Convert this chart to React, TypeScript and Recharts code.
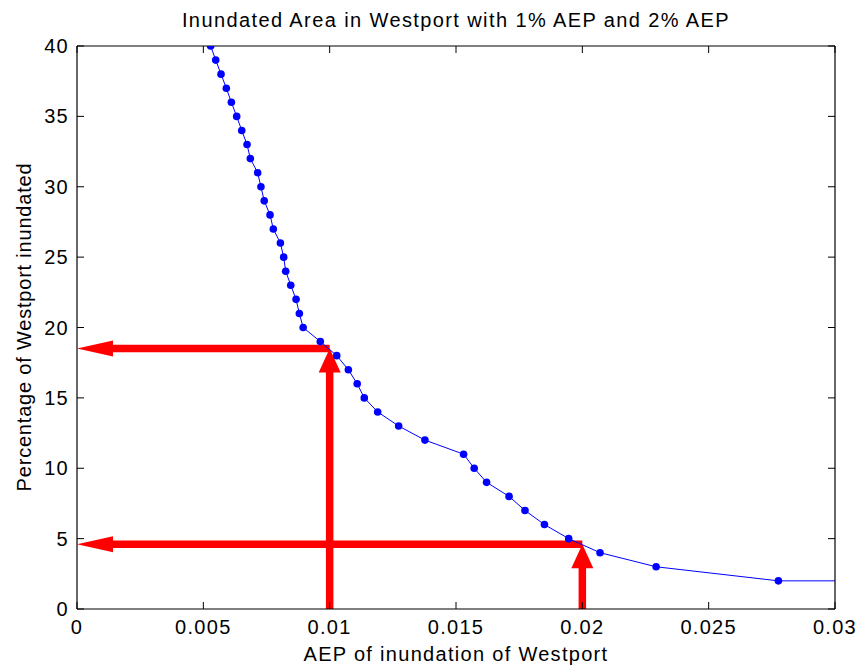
import React from "react";
import { ComposedChart, Line, XAxis, YAxis, ReferenceLine } from "recharts";

// AEP (x) and percentage inundated (y)
const AEP = [
  0.00529, 0.00549, 0.0057, 0.00591, 0.00611, 0.00632, 0.00652, 0.00673,
  0.00686, 0.00715, 0.00728, 0.00741, 0.00764, 0.00777, 0.00805, 0.00818,
  0.00826, 0.00846, 0.00867, 0.0088, 0.00895, 0.00963, 0.01028, 0.01074,
  0.01109, 0.01137, 0.0119, 0.01273, 0.01377, 0.0153, 0.01572, 0.01621,
  0.0171, 0.01773, 0.0185, 0.01946, 0.0207, 0.02292, 0.02776, 0.03,
];
const PCT_INUNDATED = [
  40, 39, 38, 37, 36, 35, 34, 33, 32, 31, 30, 29, 28, 27, 26, 25, 24, 23, 22,
  21, 20, 19, 18, 17, 16, 15, 14, 13, 12, 11, 10, 9, 8, 7, 6, 5, 4, 3, 2, 2,
];

const X_TICKS = [0, 0.005, 0.01, 0.015, 0.02, 0.025, 0.03];
const X_TICK_LABELS = ["0", "0.005", "0.01", "0.015", "0.02", "0.025", "0.03"];
const Y_TICKS = [0, 5, 10, 15, 20, 25, 30, 35, 40];

// the 1% and 2% AEP read-offs
const MARK_AEP = [0.01, 0.02];
const MARK_PCT = [18.5, 4.6];

const FONT = "'Liberation Sans', Arial, sans-serif";

const data = AEP.map((x, i) => ({ aep: x, pct: PCT_INUNDATED[i] }));

const BottomTick = (props: any) => {
  const { x, y, payload } = props;
  const i = X_TICKS.indexOf(payload.value);
  return (
    <g>
      <line x1={x} y1={y} x2={x} y2={y - 7} stroke="#000" />
      <text
        x={x}
        y={y + 25}
        textAnchor="middle"
        fontSize={20}
        fontFamily={FONT}
        fill="#000"
        style={{ letterSpacing: 1.3 }}
      >
        {i >= 0 ? X_TICK_LABELS[i] : payload.value}
      </text>
    </g>
  );
};

const TopTick = (props: any) => {
  const { x, y } = props;
  return <line x1={x} y1={y} x2={x} y2={y + 7} stroke="#000" />;
};

const LeftTick = (props: any) => {
  const { x, y, payload } = props;
  return (
    <g>
      <line x1={x} y1={y} x2={x + 7} y2={y} stroke="#000" />
      <text
        x={x - 8}
        y={y + 7}
        textAnchor="end"
        fontSize={20}
        fontFamily={FONT}
        fill="#000"
        style={{ letterSpacing: 1.3 }}
      >
        {payload.value}
      </text>
    </g>
  );
};

const RightTick = (props: any) => {
  const { x, y } = props;
  return <line x1={x} y1={y} x2={x - 7} y2={y} stroke="#000" />;
};

// thick red arrow from (x1,y1) to the tip at (x2,y2)
const Arrow = (props: any) => {
  const { x1, y1, x2, y2 } = props;
  const dx = x2 - x1;
  const dy = y2 - y1;
  const len = Math.sqrt(dx * dx + dy * dy) || 1;
  const ux = dx / len;
  const uy = dy / len;
  const horizontal = Math.abs(dx) > Math.abs(dy);
  const headLen = horizontal ? 36 : 24;
  const headW = horizontal ? 8 : 11;
  const bx = x2 - ux * headLen;
  const by = y2 - uy * headLen;
  const px = -uy;
  const py = ux;
  return (
    <g>
      <line
        x1={x1}
        y1={y1}
        x2={bx + ux}
        y2={by + uy}
        stroke="#ff0000"
        strokeWidth={7.5}
      />
      <polygon
        points={`${x2},${y2} ${bx + px * headW},${by + py * headW} ${bx - px * headW},${by - py * headW}`}
        fill="#ff0000"
      />
    </g>
  );
};

const Dot = (props: any) => {
  const { cx, cy, index } = props;
  if (index === data.length - 1) return <g key={`d-${index}`} />;
  return <circle key={`d-${index}`} cx={cx} cy={cy} r={3.8} fill="#0000ff" />;
};

export default function App() {
  return (
    <div
      style={{
        position: "absolute",
        left: 0,
        top: 0,
        width: 860,
        height: 666,
        background: "#fff",
        fontFamily: FONT,
      }}
    >
      <ComposedChart
        width={860}
        height={666}
        data={data}
        margin={{ top: 45, right: 24, bottom: 27, left: 17 }}
      >
        <text
          x={456}
          y={27}
          textAnchor="middle"
          fontSize={20}
          fontFamily={FONT}
          fill="#000"
          style={{ letterSpacing: 1.4 }}
        >
          Inundated Area in Westport with 1% AEP and 2% AEP
        </text>
        <text
          x={456}
          y={661}
          textAnchor="middle"
          fontSize={20}
          fontFamily={FONT}
          fill="#000"
          style={{ letterSpacing: 1.3 }}
        >
          AEP of inundation of Westport
        </text>
        <text
          x={31}
          y={327}
          transform="rotate(-90 31 327)"
          textAnchor="middle"
          fontSize={20}
          fontFamily={FONT}
          fill="#000"
          style={{ letterSpacing: 0.8 }}
        >
          Percentage of Westport inundated
        </text>
        <XAxis
          dataKey="aep"
          type="number"
          domain={[0, 0.03]}
          ticks={X_TICKS}
          interval={0}
          allowDataOverflow
          tickSize={0}
          tickMargin={0}
          tickLine={false}
          tick={BottomTick}
          axisLine={{ stroke: "#000", strokeWidth: 1.2 }}
          height={30}
        />
        <XAxis
          xAxisId="top"
          dataKey="aep"
          orientation="top"
          type="number"
          domain={[0, 0.03]}
          ticks={X_TICKS}
          interval={0}
          allowDataOverflow
          tickSize={0}
          tickMargin={0}
          tickLine={false}
          tick={TopTick}
          axisLine={{ stroke: "#000", strokeWidth: 1.2 }}
          height={1}
        />
        <YAxis
          type="number"
          domain={[0, 40]}
          ticks={Y_TICKS}
          interval={0}
          allowDataOverflow
          tickSize={0}
          tickMargin={0}
          tickLine={false}
          tick={LeftTick}
          axisLine={{ stroke: "#000", strokeWidth: 1.2 }}
          width={60}
        />
        <YAxis
          yAxisId="right"
          orientation="right"
          type="number"
          domain={[0, 40]}
          ticks={Y_TICKS}
          interval={0}
          allowDataOverflow
          tickSize={0}
          tickMargin={0}
          tickLine={false}
          tick={RightTick}
          axisLine={{ stroke: "#000", strokeWidth: 1.2 }}
          width={1}
        />
        {MARK_AEP.map((x, i) => (
          <ReferenceLine
            key={`h-${i}`}
            segment={[
              { x: x, y: MARK_PCT[i] },
              { x: 0, y: MARK_PCT[i] },
            ]}
            shape={Arrow}
            ifOverflow="visible"
          />
        ))}
        {MARK_AEP.map((x, i) => (
          <ReferenceLine
            key={`v-${i}`}
            segment={[
              { x: x, y: 0 },
              { x: x, y: MARK_PCT[i] },
            ]}
            shape={Arrow}
            ifOverflow="visible"
          />
        ))}
        {/* invisible copy that ties the box axes (top / right) to the data */}
        <Line
          xAxisId="top"
          yAxisId="right"
          dataKey="pct"
          type="linear"
          stroke="none"
          dot={false}
          activeDot={false}
          legendType="none"
          isAnimationActive={false}
        />
        <Line
          dataKey="pct"
          type="linear"
          stroke="#0000ff"
          strokeWidth={1}
          dot={Dot}
          activeDot={false}
          isAnimationActive={false}
        />
      </ComposedChart>
    </div>
  );
}
